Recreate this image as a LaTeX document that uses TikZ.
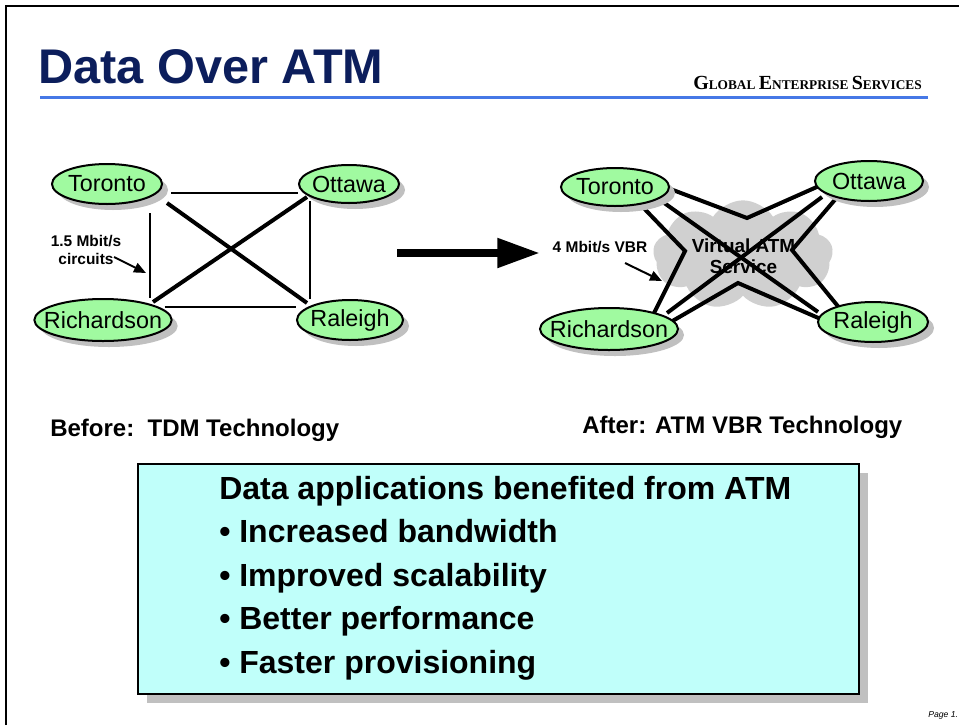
\documentclass[tikz,border=0pt]{standalone}
\usepackage{fontspec}
\setmainfont{Liberation Sans}
\newfontfamily\serifB{Liberation Serif}
\usetikzlibrary{shapes.geometric,shapes.symbols,arrows.meta,shadows,calc}
\pgfdeclarelayer{cloudlayer}
\pgfdeclarelayer{linklayer}
\pgfsetlayers{cloudlayer,linklayer,main}
\definecolor{navy}{RGB}{12,30,92}
\definecolor{rulecol}{RGB}{70,120,230}
\definecolor{cityfill}{RGB}{160,250,160}
\definecolor{shade}{RGB}{192,192,192}
\definecolor{cloudgray}{RGB}{208,208,208}
\definecolor{boxfill}{RGB}{192,255,250}
\newcommand{\fsz}[2]{\fontsize{#1pt}{#2pt}\selectfont}
\newcommand{\cityname}[1]{\makebox[0pt]{#1}}
\tikzset{
  city/.style={ellipse, draw=black, line width=1.5pt, fill=cityfill, inner sep=0pt,
    font=\fsz{17.5}{21},
    drop shadow={shadow xshift=4.5pt, shadow yshift=-4.5pt, fill=shade, opacity=1}},
  thinlink/.style={line width=1.5pt},
  thicklink/.style={line width=3pt, line join=miter},
  smallarrow/.style={line width=1.5pt, -{Triangle[length=9pt,width=7.5pt]}},
  label/.style={font=\bfseries\fsz{11.6}{13.5}, align=center, inner sep=0pt},
  bigtext/.style={anchor=base west, inner sep=0pt, font=\bfseries\fsz{24}{28}},
  caption/.style={anchor=base west, inner sep=0pt, font=\bfseries\fsz{18}{20}}
}
\begin{document}
\begin{tikzpicture}[x=0.75pt,y=-0.75pt]
\useasboundingbox (0,0) rectangle (959,725);
\begin{pgfonlayer}{cloudlayer}
\fill[white] (0,0) rectangle (959,725);
\end{pgfonlayer}
% frame
\draw[line width=1.5pt] (6,725) -- (6,6) -- (959,6);
% header
\node[anchor=base west, inner sep=0pt, text=navy, font=\bfseries\fsz{36.5}{40}] (title) at (38,83) {Data Over ATM};
\draw[rulecol, line width=2.25pt] (40,97) -- (928,97);
\node[anchor=base east, inner sep=0pt, font=\serifB\bfseries] (ges) at (922,89)
  {\fsz{15}{15}G\fsz{10}{10}LOBAL \fsz{15}{15}E\fsz{10}{10}NTERPRISE \fsz{15}{15}S\fsz{10}{10}ERVICES};

% ---------- left diagram ----------
\node[city, minimum width=82.5pt, minimum height=30pt] (torL) at (107,184) {\cityname{Toronto}};
\node[city, minimum width=75pt, minimum height=28.5pt] (ottL) at (349,184) {\cityname{Ottawa}};
\node[city, minimum width=103pt, minimum height=31.5pt] (richL) at (103,320) {\cityname{Richardson}};
\node[city, minimum width=79.5pt, minimum height=30pt] (ralL) at (350,320) {\cityname{Raleigh}};
\begin{pgfonlayer}{linklayer}
\draw[thinlink] ($(torL.east)+(8,9)$) -- ($(ottL.west)+(0,9)$);
\draw[thinlink] ($(torL.south)+(43,8)$) -- ($(richL.north)+(47,0)$);
\draw[thinlink] ($(ottL.south)+(-39,-3)$) -- ($(ralL.north)+(-40,0)$);
\draw[thinlink] ($(richL.east)+(-8,-13)$) -- ($(ralL.west)+(0,-13)$);
\draw[thicklink] ($(torL)+(60,19)$) -- ($(ralL)+(-43,-17)$);
\draw[thicklink] ($(ottL)+(-42,13)$) -- ($(richL)+(50,-18)$);
\end{pgfonlayer}

\node[label] (lbl1) at (86,250) {1.5 Mbit/s\\circuits};
\coordinate (l1a) at (114,257);
\coordinate (l1b) at (146,273);
\draw[smallarrow] (l1a) -- (l1b);

% big arrow
\coordinate (a1) at (397,253);
\coordinate (a2) at (540,253);
\draw[line width=6pt, -{Triangle[length=32pt,width=21pt]}] (a1) -- (a2);

% ---------- right diagram ----------
\begin{pgfonlayer}{cloudlayer}
\node[cloud, cloud puffs=9, cloud puff arc=115, aspect=1.6, fill=cloudgray, draw=none,
  minimum width=135pt, minimum height=82pt, inner sep=0pt] (cloud) at (743,255) {};
\node[font=\bfseries\fsz{14.2}{15.75}, align=center, inner sep=0pt] (svc) at (743.5,256) {Virtual ATM\\Service};
\end{pgfonlayer}

\node[city, minimum width=81pt, minimum height=28.5pt] (torR) at (615,187) {\cityname{Toronto}};
\node[city, minimum width=81pt, minimum height=30pt] (ottR) at (869,181) {\cityname{Ottawa}};
\node[city, minimum width=103.5pt, minimum height=31.5pt] (richR) at (609,329) {\cityname{Richardson}};
\node[city, minimum width=82.5pt, minimum height=30pt] (ralR) at (873,322) {\cityname{Raleigh}};
\coordinate (vtop) at (747,218);
\coordinate (vbot) at (738,283);
\coordinate (vleft) at (685,251);
\coordinate (vright) at (792,250);

\begin{pgfonlayer}{linklayer}
\draw[thicklink] ($(torR)+(50,0)$) -- (vtop) -- ($(ottR)+(-50,5)$);
\draw[thicklink] ($(richR)+(60,-6)$) -- (vbot) -- ($(ralR)+(-50,-2)$);
\draw[thicklink] ($(torR)+(20,12)$) -- (vleft) -- ($(richR)+(42,-10)$);
\draw[thicklink] ($(ottR)+(-30,14)$) -- (vright) -- ($(ralR)+(-32,-12)$);
\draw[thicklink] ($(torR)+(45,13)$) -- ($(ralR)+(-55,-10)$);
\draw[thicklink] ($(ottR)+(-47,16)$) -- ($(richR)+(58,-16)$);
\end{pgfonlayer}

\node[label] (lbl2) at (600,247) {4 Mbit/s VBR};
\coordinate (l2a) at (625,263);
\coordinate (l2b) at (662,281);
\draw[smallarrow] (l2a) -- (l2b);

% captions
\node[caption] (before) at (50,436) {Before:\ \ TDM Technology};
\node[caption] (after) at (582,433) {After: ATM VBR Technology};

% box
\node[anchor=north west, draw=black, line width=1.5pt, fill=boxfill, inner sep=0pt,
  minimum width=540.75pt, minimum height=172.5pt,
  drop shadow={shadow xshift=6.75pt, shadow yshift=-6.75pt, fill=shade, opacity=1}] (box) at (137,463) {};
\node[bigtext] (bt0) at (219,499) {Data applications benefited from ATM};
\node[bigtext] (bt1) at (219,542) {\textbullet\ Increased bandwidth};
\node[bigtext] (bt2) at (219,586) {\textbullet\ Improved scalability};
\node[bigtext] (bt3) at (219,629) {\textbullet\ Better performance};
\node[bigtext] (bt4) at (219,673) {\textbullet\ Faster provisioning};

\node[anchor=base west, inner sep=0pt, font=\itshape\fsz{6.5}{7}] (page) at (928,717) {Page 1.};
\end{tikzpicture}
\end{document}
